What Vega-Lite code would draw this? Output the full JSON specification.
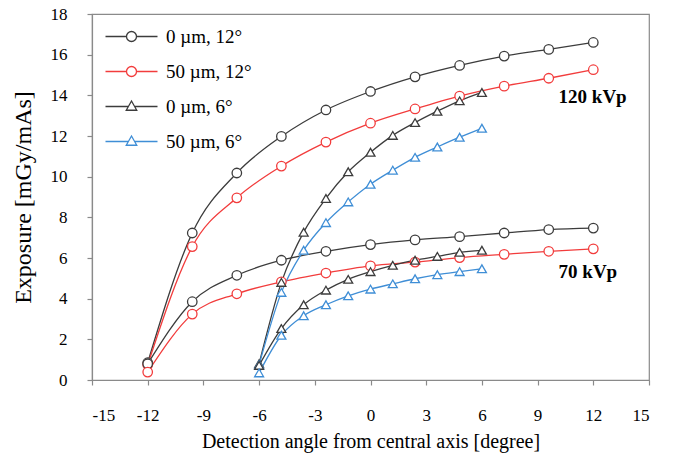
{
  "$schema": "https://vega.github.io/schema/vega-lite/v6.json",
  "width": 557,
  "height": 366,
  "autosize": "none",
  "padding": {"left": 92, "top": 14, "right": 24, "bottom": 78},
  "background": "white",
  "datasets": {
    "pts": [
      {"a": -12, "e": 0.85, "s": "0 µm, 12°", "k": "120"},
      {"a": -9.6, "e": 7.23, "s": "0 µm, 12°", "k": "120"},
      {"a": -7.2, "e": 10.18, "s": "0 µm, 12°", "k": "120"},
      {"a": -4.8, "e": 11.98, "s": "0 µm, 12°", "k": "120"},
      {"a": -2.4, "e": 13.28, "s": "0 µm, 12°", "k": "120"},
      {"a": 0, "e": 14.19, "s": "0 µm, 12°", "k": "120"},
      {"a": 2.4, "e": 14.91, "s": "0 µm, 12°", "k": "120"},
      {"a": 4.8, "e": 15.47, "s": "0 µm, 12°", "k": "120"},
      {"a": 7.2, "e": 15.93, "s": "0 µm, 12°", "k": "120"},
      {"a": 9.6, "e": 16.26, "s": "0 µm, 12°", "k": "120"},
      {"a": 12, "e": 16.6, "s": "0 µm, 12°", "k": "120"},
      {"a": -12, "e": 0.75, "s": "50 µm, 12°", "k": "120"},
      {"a": -9.6, "e": 6.56, "s": "50 µm, 12°", "k": "120"},
      {"a": -7.2, "e": 8.96, "s": "50 µm, 12°", "k": "120"},
      {"a": -4.8, "e": 10.52, "s": "50 µm, 12°", "k": "120"},
      {"a": -2.4, "e": 11.7, "s": "50 µm, 12°", "k": "120"},
      {"a": 0, "e": 12.63, "s": "50 µm, 12°", "k": "120"},
      {"a": 2.4, "e": 13.33, "s": "50 µm, 12°", "k": "120"},
      {"a": 4.8, "e": 13.96, "s": "50 µm, 12°", "k": "120"},
      {"a": 7.2, "e": 14.45, "s": "50 µm, 12°", "k": "120"},
      {"a": 9.6, "e": 14.84, "s": "50 µm, 12°", "k": "120"},
      {"a": 12, "e": 15.26, "s": "50 µm, 12°", "k": "120"},
      {"a": -12, "e": 0.8, "s": "0 µm, 12°", "k": "70"},
      {"a": -9.6, "e": 3.85, "s": "0 µm, 12°", "k": "70"},
      {"a": -7.2, "e": 5.15, "s": "0 µm, 12°", "k": "70"},
      {"a": -4.8, "e": 5.89, "s": "0 µm, 12°", "k": "70"},
      {"a": -2.4, "e": 6.33, "s": "0 µm, 12°", "k": "70"},
      {"a": 0, "e": 6.66, "s": "0 µm, 12°", "k": "70"},
      {"a": 2.4, "e": 6.89, "s": "0 µm, 12°", "k": "70"},
      {"a": 4.8, "e": 7.05, "s": "0 µm, 12°", "k": "70"},
      {"a": 7.2, "e": 7.23, "s": "0 µm, 12°", "k": "70"},
      {"a": 9.6, "e": 7.4, "s": "0 µm, 12°", "k": "70"},
      {"a": 12, "e": 7.47, "s": "0 µm, 12°", "k": "70"},
      {"a": -12, "e": 0.39, "s": "50 µm, 12°", "k": "70"},
      {"a": -9.6, "e": 3.24, "s": "50 µm, 12°", "k": "70"},
      {"a": -7.2, "e": 4.24, "s": "50 µm, 12°", "k": "70"},
      {"a": -4.8, "e": 4.83, "s": "50 µm, 12°", "k": "70"},
      {"a": -2.4, "e": 5.26, "s": "50 µm, 12°", "k": "70"},
      {"a": 0, "e": 5.61, "s": "50 µm, 12°", "k": "70"},
      {"a": 2.4, "e": 5.8, "s": "50 µm, 12°", "k": "70"},
      {"a": 4.8, "e": 6.02, "s": "50 µm, 12°", "k": "70"},
      {"a": 7.2, "e": 6.18, "s": "50 µm, 12°", "k": "70"},
      {"a": 9.6, "e": 6.33, "s": "50 µm, 12°", "k": "70"},
      {"a": 12, "e": 6.45, "s": "50 µm, 12°", "k": "70"},
      {"a": -6, "e": 0.8, "s": "0 µm, 6°", "k": "120"},
      {"a": -4.8, "e": 4.8, "s": "0 µm, 6°", "k": "120"},
      {"a": -3.6, "e": 7.27, "s": "0 µm, 6°", "k": "120"},
      {"a": -2.4, "e": 8.93, "s": "0 µm, 6°", "k": "120"},
      {"a": -1.2, "e": 10.24, "s": "0 µm, 6°", "k": "120"},
      {"a": 0, "e": 11.2, "s": "0 µm, 6°", "k": "120"},
      {"a": 1.2, "e": 12.03, "s": "0 µm, 6°", "k": "120"},
      {"a": 2.4, "e": 12.66, "s": "0 µm, 6°", "k": "120"},
      {"a": 3.6, "e": 13.22, "s": "0 µm, 6°", "k": "120"},
      {"a": 4.8, "e": 13.73, "s": "0 µm, 6°", "k": "120"},
      {"a": 6, "e": 14.14, "s": "0 µm, 6°", "k": "120"},
      {"a": -6, "e": 0.75, "s": "50 µm, 6°", "k": "120"},
      {"a": -4.8, "e": 4.31, "s": "50 µm, 6°", "k": "120"},
      {"a": -3.6, "e": 6.38, "s": "50 µm, 6°", "k": "120"},
      {"a": -2.4, "e": 7.74, "s": "50 µm, 6°", "k": "120"},
      {"a": -1.2, "e": 8.76, "s": "50 µm, 6°", "k": "120"},
      {"a": 0, "e": 9.63, "s": "50 µm, 6°", "k": "120"},
      {"a": 1.2, "e": 10.32, "s": "50 µm, 6°", "k": "120"},
      {"a": 2.4, "e": 10.95, "s": "50 µm, 6°", "k": "120"},
      {"a": 3.6, "e": 11.46, "s": "50 µm, 6°", "k": "120"},
      {"a": 4.8, "e": 11.94, "s": "50 µm, 6°", "k": "120"},
      {"a": 6, "e": 12.38, "s": "50 µm, 6°", "k": "120"},
      {"a": -6, "e": 0.72, "s": "0 µm, 6°", "k": "70"},
      {"a": -4.8, "e": 2.53, "s": "0 µm, 6°", "k": "70"},
      {"a": -3.6, "e": 3.7, "s": "0 µm, 6°", "k": "70"},
      {"a": -2.4, "e": 4.42, "s": "0 µm, 6°", "k": "70"},
      {"a": -1.2, "e": 4.95, "s": "0 µm, 6°", "k": "70"},
      {"a": 0, "e": 5.33, "s": "0 µm, 6°", "k": "70"},
      {"a": 1.2, "e": 5.64, "s": "0 µm, 6°", "k": "70"},
      {"a": 2.4, "e": 5.89, "s": "0 µm, 6°", "k": "70"},
      {"a": 3.6, "e": 6.08, "s": "0 µm, 6°", "k": "70"},
      {"a": 4.8, "e": 6.28, "s": "0 µm, 6°", "k": "70"},
      {"a": 6, "e": 6.38, "s": "0 µm, 6°", "k": "70"},
      {"a": -6, "e": 0.35, "s": "50 µm, 6°", "k": "70"},
      {"a": -4.8, "e": 2.2, "s": "50 µm, 6°", "k": "70"},
      {"a": -3.6, "e": 3.16, "s": "50 µm, 6°", "k": "70"},
      {"a": -2.4, "e": 3.7, "s": "50 µm, 6°", "k": "70"},
      {"a": -1.2, "e": 4.14, "s": "50 µm, 6°", "k": "70"},
      {"a": 0, "e": 4.47, "s": "50 µm, 6°", "k": "70"},
      {"a": 1.2, "e": 4.73, "s": "50 µm, 6°", "k": "70"},
      {"a": 2.4, "e": 4.98, "s": "50 µm, 6°", "k": "70"},
      {"a": 3.6, "e": 5.18, "s": "50 µm, 6°", "k": "70"},
      {"a": 4.8, "e": 5.33, "s": "50 µm, 6°", "k": "70"},
      {"a": 6, "e": 5.47, "s": "50 µm, 6°", "k": "70"}
    ],
    "notes": [
      {"a": 10.13, "e": 13.9, "t": "120 kVp"},
      {"a": 10.13, "e": 5.3, "t": "70 kVp"}
    ]
  },
  "layer": [
    {
      "data": {"name": "pts"},
      "mark": {"type": "line", "interpolate": "monotone", "strokeWidth": 1.3},
      "encoding": {
        "x": {"field": "a", "type": "quantitative", "scale": {"domain": [-15, 15], "nice": false},
              "axis": {"title": "Detection angle from central axis [degree]", "values": [-15, -12, -9, -6, -3, 0, 3, 6, 9, 12, 15], "labelExpr": "replace(datum.label, '−', '-')"}},
        "y": {"field": "e", "type": "quantitative", "scale": {"domain": [0, 18], "nice": false},
              "axis": {"title": "Exposure [mGy/mAs]", "values": [0, 2, 4, 6, 8, 10, 12, 14, 16, 18]}},
        "color": {
          "field": "s", "type": "nominal",
          "scale": {"domain": ["0 µm, 12°", "50 µm, 12°", "0 µm, 6°", "50 µm, 6°"], "range": ["#3c3c3c", "#f23c3c", "#3c3c3c", "#3f8ed6"]},
          "legend": {
            "orient": "none", "legendX": 30, "legendY": 13, "title": null,
            "labelFont": "Liberation Serif", "labelFontSize": 19, "labelColor": "black",
            "labelOffset": 25, "rowPadding": 15, "symbolSize": 100, "symbolStrokeWidth": 1.3,
            "encode": {"symbols": {"update": {
              "shape": {"signal": "indexof(datum.value, '6°') >= 0 ? 'M-5.2,0L-0.62,0M0.62,0L5.2,0M0,-1.1L1.05,0.75L-1.05,0.75Z' : 'M-5.2,0L-1,0M1,0L5.2,0M1,0A1,1,0,1,1,-1,0A1,1,0,1,1,1,0Z'"},
              "fill": {"value": "white"},
              "fillOpacity": {"value": 1}
            }}}
          }
        },
        "detail": {"field": "k", "type": "nominal"},
        "order": {"field": "a", "type": "quantitative"}
      }
    },
    {
      "data": {"name": "pts"},
      "transform": [{"filter": "indexof(datum.s, '12°') >= 0"}],
      "mark": {"type": "point", "shape": "circle", "filled": false, "fill": "white", "fillOpacity": 1, "strokeWidth": 1.3, "size": 90, "opacity": 1},
      "encoding": {
        "x": {"field": "a", "type": "quantitative"},
        "y": {"field": "e", "type": "quantitative"},
        "color": {"field": "s", "type": "nominal"}
      }
    },
    {
      "data": {"name": "pts"},
      "transform": [{"filter": "indexof(datum.s, '6°') >= 0"}],
      "mark": {"type": "point", "shape": "triangle-up", "filled": false, "fill": "white", "fillOpacity": 1, "strokeWidth": 1.3, "size": 80, "opacity": 1},
      "encoding": {
        "x": {"field": "a", "type": "quantitative"},
        "y": {"field": "e", "type": "quantitative"},
        "color": {"field": "s", "type": "nominal"}
      }
    },
    {
      "data": {"name": "notes"},
      "mark": {"type": "text", "align": "left", "baseline": "middle", "font": "Liberation Serif", "fontSize": 19, "fontWeight": "bold", "color": "black"},
      "encoding": {
        "x": {"field": "a", "type": "quantitative"},
        "y": {"field": "e", "type": "quantitative"},
        "text": {"field": "t", "type": "nominal"}
      }
    }
  ],
  "config": {
    "view": {"stroke": "#8a8a8a", "strokeWidth": 1.2},
    "axis": {
      "grid": false,
      "domainColor": "#8a8a8a", "domainWidth": 1.2,
      "tickColor": "#8a8a8a", "tickSize": 5, "tickWidth": 1.2,
      "labelFont": "Liberation Serif", "labelFontSize": 17, "labelColor": "black",
      "titleFont": "Liberation Serif", "titleFontSize": 20, "titleFontWeight": "normal", "titleColor": "black"
    },
    "axisX": {"labelPadding": 22, "titlePadding": 8},
    "axisY": {"labelPadding": 20, "titlePadding": 15, "titleFontSize": 24}
  }
}
